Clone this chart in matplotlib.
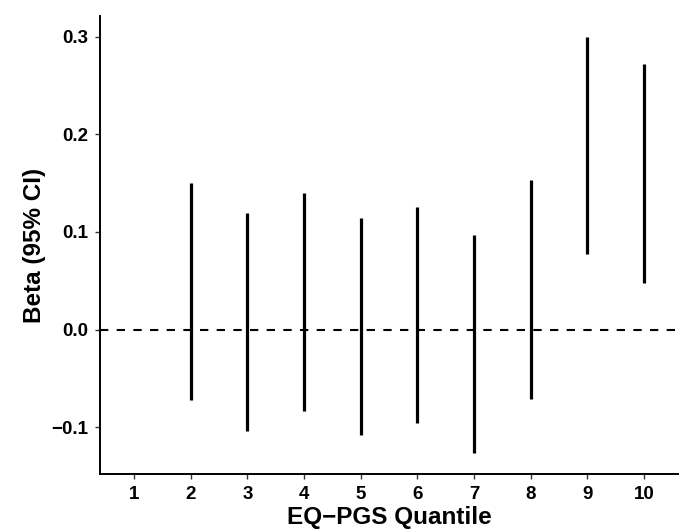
import numpy as np
import matplotlib
matplotlib.use("Agg")
import matplotlib.pyplot as plt

# quantile 1 is the reference group (no interval)
quantiles = [1, 2, 3, 4, 5, 6, 7, 8, 9, 10]
ci_lower = [0.0, -0.072, -0.104, -0.083, -0.108, -0.096, -0.126, -0.071, 0.077, 0.048]
ci_upper = [0.0, 0.150, 0.119, 0.140, 0.114, 0.126, 0.097, 0.153, 0.300, 0.272]
y_ticks = [-0.1, 0.0, 0.1, 0.2, 0.3]

plt.rcParams['font.family'] = ['Liberation Sans', 'DejaVu Sans']

fig = plt.figure(figsize=(6.82, 5.30), dpi=100)
ax = fig.add_axes([100 / 682, 56 / 530, 578 / 682, 458 / 530])

# zero reference line
ax.axhline(0, color='black', linestyle=(0, (4, 4)), linewidth=1.5, zorder=1)

# confidence intervals as vertical segments
ax.vlines(quantiles, ci_lower, ci_upper, color='black', linewidth=2.3, zorder=2)

ax.set_xlim(0.4, 10.6)
ax.set_ylim(-0.1477, 0.321)
ax.set_xticks(quantiles)
ax.set_yticks(y_ticks)
ax.set_yticklabels([f'{t:.1f}'.replace('-', '\u2212') for t in y_ticks])

for side in ['top', 'right']:
    ax.spines[side].set_visible(False)
for side in ['left', 'bottom']:
    ax.spines[side].set_linewidth(1.4)

ax.tick_params(axis='both', length=3.6, width=1.0, color='#333333',
               labelsize=13.5, labelcolor='black', pad=5)
for lbl in ax.get_xticklabels() + ax.get_yticklabels():
    lbl.set_fontweight('bold')

ax.set_xlabel('EQ\u2212PGS Quantile', fontsize=17.5, fontweight='bold', labelpad=2)
ax.set_ylabel('Beta (95% CI)', fontsize=17.5, fontweight='bold', labelpad=4)

fig.savefig('out.png', dpi=100)
